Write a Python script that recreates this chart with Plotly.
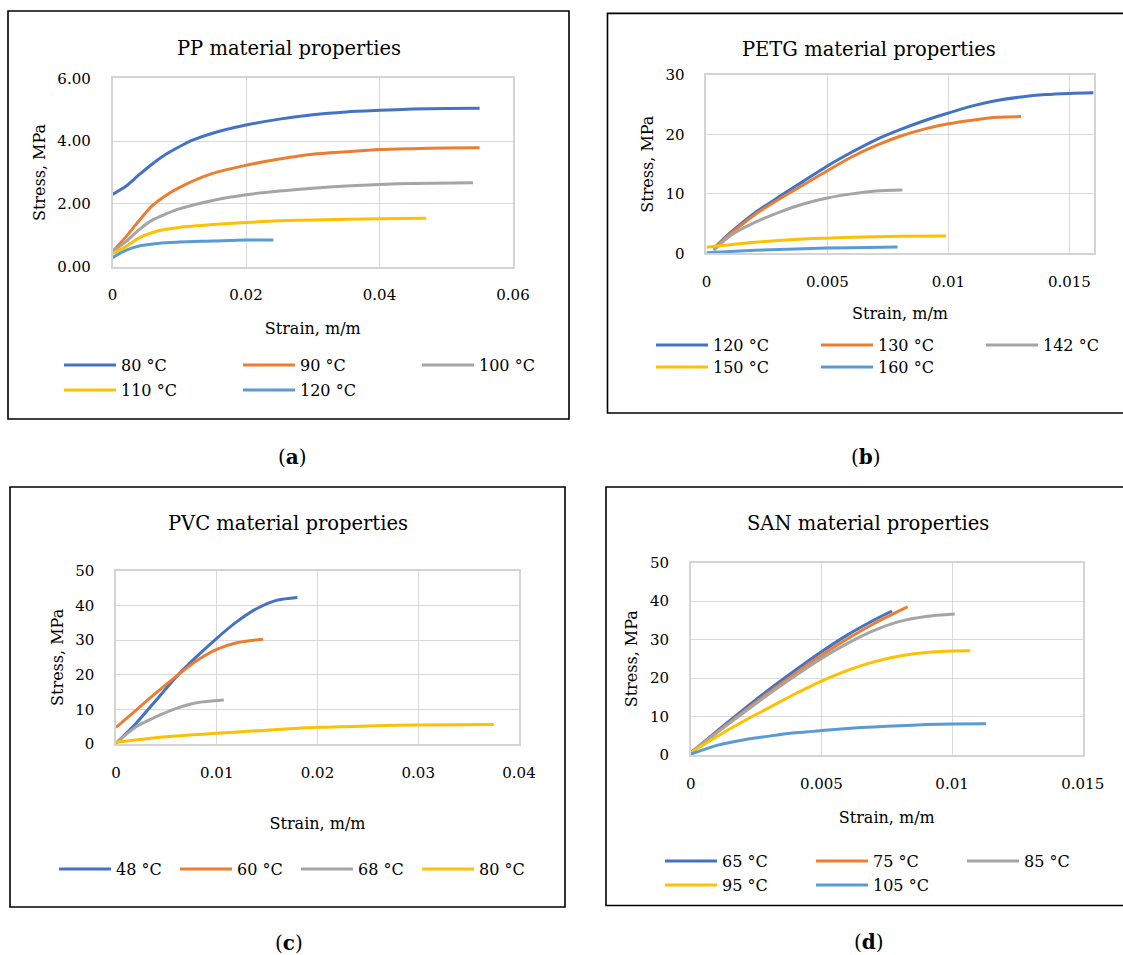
import plotly.graph_objects as go

W, H = 1123, 955
FONT = "DejaVu Serif"
COLORS = ["#4472C4", "#ED7D31", "#A5A5A5", "#FFC000", "#5B9BD5"]

# ---------------- (a) PP ----------------
pp_names = ["80 °C", "90 °C", "100 °C", "110 °C", "120 °C"]
pp_x_80 = [0, 0.002, 0.004, 0.006, 0.008, 0.01, 0.012, 0.015, 0.02, 0.025, 0.03, 0.035, 0.04, 0.045, 0.05, 0.055]
pp_y_80 = [2.3, 2.56, 2.93, 3.28, 3.58, 3.82, 4.03, 4.25, 4.51, 4.7, 4.84, 4.93, 4.98, 5.02, 5.04, 5.05]
pp_x_90 = [0, 0.002, 0.004, 0.006, 0.008, 0.01, 0.015, 0.02, 0.025, 0.03, 0.035, 0.04, 0.045, 0.05, 0.055]
pp_y_90 = [0.48, 0.95, 1.47, 1.95, 2.27, 2.52, 2.97, 3.23, 3.43, 3.58, 3.66, 3.73, 3.76, 3.78, 3.79]
pp_x_100 = [0, 0.002, 0.004, 0.006, 0.008, 0.01, 0.015, 0.02, 0.025, 0.03, 0.035, 0.04, 0.045, 0.054]
pp_y_100 = [0.48, 0.8, 1.18, 1.49, 1.68, 1.84, 2.11, 2.29, 2.41, 2.5, 2.57, 2.62, 2.65, 2.67]
pp_x_110 = [0, 0.002, 0.004, 0.006, 0.008, 0.01, 0.015, 0.02, 0.025, 0.03, 0.04, 0.047]
pp_y_110 = [0.42, 0.64, 0.92, 1.09, 1.19, 1.25, 1.34, 1.41, 1.46, 1.49, 1.53, 1.54]
pp_x_120 = [0, 0.002, 0.004, 0.006, 0.008, 0.01, 0.015, 0.02, 0.0241]
pp_y_120 = [0.29, 0.52, 0.66, 0.72, 0.76, 0.79, 0.82, 0.85, 0.85]
pp_xticks = [0, 0.02, 0.04, 0.06]
pp_xticktext = ["0", "0.02", "0.04", "0.06"]
pp_yticks = [0, 2, 4, 6]
pp_yticktext = ["0.00", "2.00", "4.00", "6.00"]

# ---------------- (b) PETG ----------------
petg_names = ["120 °C", "130 °C", "142 °C", "150 °C", "160 °C"]
petg_x_120 = [0.0003, 0.001, 0.002, 0.003, 0.004, 0.005, 0.006, 0.007, 0.008, 0.009, 0.01, 0.011, 0.012, 0.013, 0.014, 0.015, 0.016]
petg_y_120 = [0.8, 3.5, 6.8, 9.5, 12.1, 14.7, 17.0, 19.1, 20.8, 22.3, 23.6, 24.8, 25.7, 26.3, 26.7, 26.9, 27.0]
petg_x_130 = [0.0003, 0.001, 0.002, 0.003, 0.004, 0.005, 0.006, 0.007, 0.008, 0.009, 0.01, 0.011, 0.012, 0.013]
petg_y_130 = [0.8, 3.3, 6.5, 9.1, 11.5, 13.9, 16.2, 18.1, 19.7, 20.9, 21.8, 22.4, 22.9, 23.0]
petg_x_142 = [0.0003, 0.001, 0.002, 0.003, 0.004, 0.005, 0.006, 0.007, 0.0081]
petg_y_142 = [0.5, 3.0, 5.2, 6.9, 8.3, 9.3, 10.0, 10.5, 10.65]
petg_x_150 = [0, 0.002, 0.004, 0.006, 0.008, 0.0099]
petg_y_150 = [1.0, 1.85, 2.4, 2.7, 2.86, 2.9]
petg_x_160 = [0, 0.002, 0.004, 0.006, 0.0079]
petg_y_160 = [0.1, 0.5, 0.78, 0.95, 1.06]
petg_xticks = [0, 0.005, 0.01, 0.015]
petg_xticktext = ["0", "0.005", "0.01", "0.015"]
petg_yticks = [0, 10, 20, 30]
petg_yticktext = ["0", "10", "20", "30"]

# ---------------- (c) PVC ----------------
pvc_names = ["48 °C", "60 °C", "68 °C", "80 °C"]
pvc_x_48 = [0, 0.002, 0.004, 0.006, 0.008, 0.01, 0.012, 0.014, 0.016, 0.018]
pvc_y_48 = [0.2, 6.0, 12.7, 19.4, 25.2, 30.5, 35.3, 39.1, 41.5, 42.3]
pvc_x_60 = [0, 0.002, 0.004, 0.006, 0.008, 0.01, 0.012, 0.0146]
pvc_y_60 = [4.8, 9.8, 14.8, 19.6, 24.0, 27.3, 29.2, 30.2]
pvc_x_68 = [0, 0.002, 0.004, 0.006, 0.008, 0.0107]
pvc_y_68 = [0.3, 5.0, 7.9, 10.3, 11.9, 12.7]
pvc_x_80 = [0, 0.005, 0.01, 0.015, 0.02, 0.025, 0.03, 0.0375]
pvc_y_80 = [0.5, 2.1, 3.1, 4.0, 4.8, 5.2, 5.5, 5.6]
pvc_xticks = [0, 0.01, 0.02, 0.03, 0.04]
pvc_xticktext = ["0", "0.01", "0.02", "0.03", "0.04"]
pvc_yticks = [0, 10, 20, 30, 40, 50]
pvc_yticktext = ["0", "10", "20", "30", "40", "50"]

# ---------------- (d) SAN ----------------
san_names = ["65 °C", "75 °C", "85 °C", "95 °C", "105 °C"]
san_x_65 = [0, 0.001, 0.002, 0.003, 0.004, 0.005, 0.006, 0.007, 0.0077]
san_y_65 = [0.6, 6.2, 11.7, 17.0, 22.0, 26.8, 31.2, 35.0, 37.4]
san_x_75 = [0, 0.001, 0.002, 0.003, 0.004, 0.005, 0.006, 0.007, 0.008, 0.0083]
san_y_75 = [0.6, 5.9, 11.2, 16.3, 21.2, 25.9, 30.2, 34.1, 37.5, 38.5]
san_x_85 = [0, 0.001, 0.002, 0.003, 0.004, 0.005, 0.006, 0.007, 0.008, 0.009, 0.0101]
san_y_85 = [0.6, 5.8, 10.9, 15.9, 20.6, 25.1, 29.0, 32.3, 34.7, 36.0, 36.65]
san_x_95 = [0, 0.001, 0.002, 0.003, 0.004, 0.005, 0.006, 0.007, 0.008, 0.009, 0.01, 0.0107]
san_y_95 = [0.6, 4.8, 8.7, 12.3, 15.9, 19.2, 22.0, 24.2, 25.7, 26.6, 27.0, 27.05]
san_x_105 = [0, 0.001, 0.002, 0.003, 0.004, 0.005, 0.006, 0.007, 0.008, 0.009, 0.01, 0.0113]
san_y_105 = [0.2, 2.5, 3.9, 4.9, 5.75, 6.35, 6.9, 7.3, 7.6, 7.9, 8.05, 8.1]
san_xticks = [0, 0.005, 0.01, 0.015]
san_xticktext = ["0", "0.005", "0.01", "0.015"]
san_yticks = [0, 10, 20, 30, 40, 50]
san_yticktext = ["0", "10", "20", "30", "40", "50"]

titles = ["PP material properties", "PETG material properties",
          "PVC material properties", "SAN material properties"]
captions = ["(<b>a</b>)", "(<b>b</b>)", "(<b>c</b>)", "(<b>d</b>)"]
x_title = "Strain, m/m"
y_title = "Stress, MPa"


def px(x):
    return x / W


def py(y):
    return 1 - y / H


panels = [
    dict(ax="", xs=[pp_x_80, pp_x_90, pp_x_100, pp_x_110, pp_x_120],
         ys=[pp_y_80, pp_y_90, pp_y_100, pp_y_110, pp_y_120], names=pp_names,
         xr=[0, 0.06], yr=[0, 6], xt=(pp_xticks, pp_xticktext), yt=(pp_yticks, pp_yticktext),
         box=(112.5, 513, 78.3, 266.7), title=(289, 48), cap=(292, 457),
         frame=(8, 569, 11, 419), xstand=19,
         legends=[([0, 1, 2], 365), ([3, 4], 390)], lx=64, ew=179),
    dict(ax="2", xs=[petg_x_120, petg_x_130, petg_x_142, petg_x_150, petg_x_160],
         ys=[petg_y_120, petg_y_130, petg_y_142, petg_y_150, petg_y_160], names=petg_names,
         xr=[0, 0.016], yr=[0, 30], xt=(petg_xticks, petg_xticktext), yt=(petg_yticks, petg_yticktext),
         box=(706.4, 1093.6, 75, 253.3), title=(869, 50), cap=(866, 457),
         frame=(607.5, 1125, 13.4, 413), xstand=18,
         legends=[([0, 1, 2], 345), ([3, 4], 367)], lx=656, ew=165),
    dict(ax="3", xs=[pvc_x_48, pvc_x_60, pvc_x_68, pvc_x_80],
         ys=[pvc_y_48, pvc_y_60, pvc_y_68, pvc_y_80], names=pvc_names,
         xr=[0, 0.04], yr=[0, 50], xt=(pvc_xticks, pvc_xticktext), yt=(pvc_yticks, pvc_yticktext),
         box=(116, 519, 570.7, 744), title=(287.5, 523), cap=(288.6, 943),
         frame=(10, 565, 487, 907), xstand=37,
         legends=[([0, 1, 2, 3], 869)], lx=59, ew=121),
    dict(ax="4", xs=[san_x_65, san_x_75, san_x_85, san_x_95, san_x_105],
         ys=[san_y_65, san_y_75, san_y_85, san_y_95, san_y_105], names=san_names,
         xr=[0, 0.015], yr=[0, 50], xt=(san_xticks, san_xticktext), yt=(san_yticks, san_yticktext),
         box=(690.8, 1082.7, 562.5, 755), title=(868, 523), cap=(869, 942),
         frame=(606, 1125, 487, 905.5), xstand=20,
         legends=[([0, 1, 2], 861), ([3, 4], 885)], lx=665, ew=151),
]

ITEM_W = 52

fig = go.Figure()
layout = dict(
    width=W, height=H, margin=dict(l=0, r=0, t=0, b=0, autoexpand=False),
    paper_bgcolor="white", plot_bgcolor="white",
    font=dict(family=FONT, color="#000000"),
    showlegend=True,
)
annotations = []
shapes = []
legend_idx = 0
tickfont = dict(family=FONT, size=15, color="#000000")
titlefont = dict(family=FONT, size=16, color="#000000")

for p_i, p in enumerate(panels):
    suffix = p["ax"]
    xa = "x" + suffix
    ya = "y" + suffix
    legend_of = {}
    for rows in p["legends"]:
        idxs, yc = rows
        legend_idx += 1
        lname = "legend" if legend_idx == 1 else "legend%d" % legend_idx
        for i in idxs:
            legend_of[i] = lname
        layout[lname] = dict(
            orientation="h", x=px(p["lx"] - 5), xanchor="left",
            y=py(yc), yanchor="middle", itemwidth=ITEM_W,
            entrywidth=p["ew"] - (ITEM_W + 15),
            entrywidthmode="pixels", bgcolor="rgba(0,0,0,0)",
            font=dict(family=FONT, size=16, color="#000000"),
            traceorder="normal", itemclick=False, itemdoubleclick=False,
        )
    for i, (xs, ys, nm) in enumerate(zip(p["xs"], p["ys"], p["names"])):
        fig.add_trace(go.Scatter(
            x=xs, y=ys, mode="lines", name=nm,
            line=dict(color=COLORS[i], width=3, shape="spline", smoothing=0.8),
            xaxis=xa, yaxis=ya, legend=legend_of[i], hoverinfo="x+y+name",
        ))
    x0, x1, ytop, ybot = p["box"]
    layout["xaxis" + suffix] = dict(
        domain=[px(x0), px(x1)], range=p["xr"], anchor=ya,
        tickvals=p["xt"][0], ticktext=p["xt"][1],
        showgrid=True, gridcolor="#D9D9D9", gridwidth=1,
        showline=True, linecolor="#D4D4D4", linewidth=1.5, mirror=True,
        zeroline=False, ticks="outside", ticklen=14, tickcolor="rgba(0,0,0,0)",
        tickfont=tickfont, fixedrange=True,
        title=dict(text=x_title, font=titlefont, standoff=p["xstand"]),
    )
    layout["yaxis" + suffix] = dict(
        domain=[py(ybot), py(ytop)], range=p["yr"], anchor=xa,
        tickvals=p["yt"][0], ticktext=p["yt"][1],
        showgrid=True, gridcolor="#D9D9D9", gridwidth=1,
        showline=True, linecolor="#D4D4D4", linewidth=1.5, mirror=True,
        zeroline=False, ticks="outside", ticklen=17, tickcolor="rgba(0,0,0,0)",
        tickfont=tickfont, fixedrange=True,
        title=dict(text=y_title, font=titlefont, standoff=8),
    )
    tx, ty = p["title"]
    annotations.append(dict(
        text=titles[p_i], x=px(tx), y=py(ty), xref="paper", yref="paper",
        xanchor="center", yanchor="middle", showarrow=False,
        font=dict(family=FONT, size=19.5, color="#000000"),
    ))
    cx, cy = p["cap"]
    annotations.append(dict(
        text=captions[p_i], x=px(cx), y=py(cy), xref="paper", yref="paper",
        xanchor="center", yanchor="middle", showarrow=False,
        font=dict(family=FONT, size=20, color="#000000"),
    ))
    fl, fr, ft, fb = p["frame"]
    shapes.append(dict(
        type="rect", xref="paper", yref="paper",
        x0=px(fl), x1=min(px(fr), 1.002), y0=py(fb), y1=py(ft),
        line=dict(color="#000000", width=1.6), fillcolor="rgba(0,0,0,0)", layer="below",
    ))

layout["annotations"] = annotations
layout["shapes"] = shapes
fig.update_layout(**layout)
fig.write_html(
    "out.html",
    config={"displayModeBar": False, "responsive": False},
    post_script="document.body.style.margin='0';document.body.style.padding='0';"
                "document.body.style.overflow='hidden';",
)
